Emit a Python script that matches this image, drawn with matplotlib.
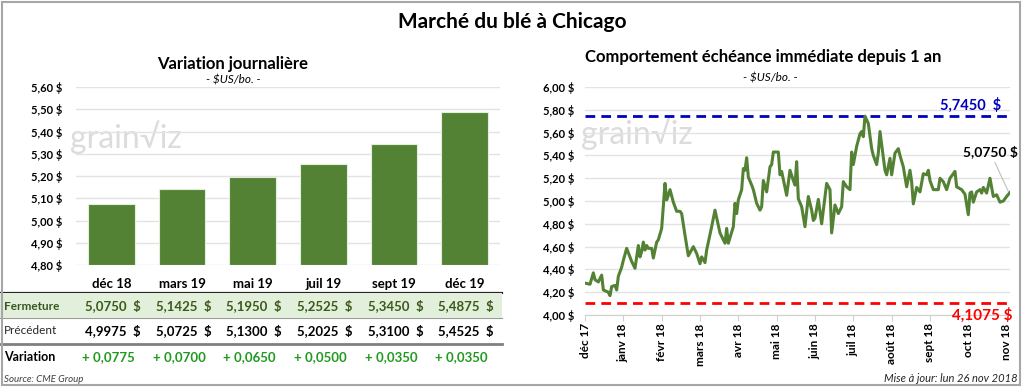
import matplotlib
matplotlib.use("Agg")
import matplotlib.pyplot as plt
import matplotlib.transforms as mtransforms
from matplotlib.patches import Rectangle
from matplotlib.lines import Line2D

plt.rcParams['font.family'] = ['Lato', 'DejaVu Sans']

# --- Données : contrats à terme (gauche) ---
echeances = ["déc 18", "mars 19", "mai 19", "juil 19", "sept 19", "déc 19"]
fermeture = [5.0750, 5.1425, 5.1950, 5.2525, 5.3450, 5.4875]
precedent = [4.9975, 5.0725, 5.1300, 5.2025, 5.3100, 5.4525]

# --- Données : échéance immédiate sur 1 an (droite), index de séance ---
seances = [0, 3, 5, 6, 8, 10, 11, 14, 15, 16, 18, 19, 20, 22, 23, 25, 27, 28, 30, 32,
           33, 34, 35, 36, 37, 38, 40, 41, 43, 44, 46, 48, 49, 50, 51, 53, 55, 57, 58, 60,
           62, 65, 67, 69, 70, 72, 73, 76, 78, 81, 84, 85, 86, 89, 90, 91, 92, 94, 95, 96,
           97, 98, 100, 101, 103, 105, 106, 107, 109, 111, 112, 113, 116, 117, 118, 121, 123, 125, 126, 127,
           128, 130, 132, 134, 136, 137, 138, 140, 142, 145, 147, 148, 150, 152, 154, 155, 157, 159, 160, 161,
           163, 165, 166, 167, 168, 170, 172, 173, 175, 176, 177, 180, 181, 183, 184, 186, 188, 189, 191, 193,
           195, 196, 197, 199, 201, 203, 205, 206, 207, 209, 212, 213, 215, 217, 219, 222, 223, 226, 228, 230,
           231, 232, 233, 235, 237, 238, 239, 241, 243, 245, 247, 249, 251, 253, 255]
prix = [4.28, 4.27, 4.37, 4.31, 4.29, 4.35, 4.22, 4.20, 4.17, 4.25, 4.26, 4.22, 4.34, 4.42, 4.48, 4.585, 4.51, 4.47, 4.41, 4.61,
        4.51, 4.555, 4.64, 4.57, 4.61, 4.585, 4.585, 4.50, 4.64, 4.66, 4.76, 5.155, 5.01, 5.05, 5.10, 4.99, 4.91, 4.91, 4.89, 4.70,
        4.52, 4.60, 4.54, 4.45, 4.51, 4.46, 4.57, 4.775, 4.92, 4.72, 4.63, 4.76, 4.63, 4.775, 4.98, 4.89, 5.01, 5.10, 5.285, 5.27,
        5.38, 5.21, 5.14, 5.10, 4.98, 4.92, 4.95, 5.18, 5.08, 5.30, 5.32, 5.43, 5.43, 5.23, 5.26, 5.05, 5.27, 5.18, 5.14, 5.345,
        5.02, 4.95, 4.775, 5.04, 4.92, 4.83, 4.85, 5.015, 4.80, 5.155, 5.10, 4.72, 4.965, 4.89, 4.95, 5.17, 5.125, 5.10, 5.43, 5.32,
        5.48, 5.59, 5.61, 5.565, 5.745, 5.68, 5.46, 5.40, 5.32, 5.42, 5.61, 5.27, 5.23, 5.375, 5.23, 5.42, 5.46, 5.40, 5.30, 5.125,
        5.27, 5.17, 4.975, 5.12, 5.08, 5.24, 5.23, 5.27, 5.18, 5.10, 5.10, 5.20, 5.17, 5.10, 5.20, 5.26, 5.125, 5.10, 5.06, 4.88,
        5.07, 5.08, 4.99, 5.08, 5.10, 5.07, 5.12, 5.07, 5.20, 5.04, 5.055, 4.99, 5.00, 5.04, 5.075]
mois = ["déc 17", "janv 18", "févr 18", "mars 18", "avr 18", "mai 18", "juin 18",
        "juil 18", "août 18", "sept 18", "oct 18", "nov 18"]
haut_1an = 5.7450
bas_1an = 4.1075


def fr(v, n=2):
    return f"{v:.{n}f}".replace(".", ",")


VERT = "#548235"
fig = plt.figure(figsize=(10.24, 3.87), dpi=100)

# cadre gris autour de l'image
fig.patches.append(Rectangle((0.002, 0.004), 0.994, 0.992, transform=fig.transFigure,
                             fill=False, edgecolor="#a6a6a6", linewidth=1.5))

fig.text(0.5, 0.943, "Marché du blé à Chicago", ha="center", va="center",
         fontsize=15, fontweight="bold")

# ---------- graphique de gauche ----------
ax1 = fig.add_axes([0.0742, 0.315, 0.414, 0.46])
x = range(len(echeances))
ax1.bar(x, [f - 4.8 for f in fermeture], bottom=4.8, width=0.66, color=VERT,
        edgecolor="#e2efda", linewidth=0.8, zorder=3)
ax1.set_ylim(4.8, 5.6)
ax1.set_xlim(-0.5, len(echeances) - 0.5)
ax1.set_yticks([4.8 + 0.1 * i for i in range(9)])
ax1.set_yticklabels([fr(4.8 + 0.1 * i) + " $" for i in range(9)], fontsize=8, fontweight="bold")
ax1.set_xticks([])
ax1.grid(axis="y", color="#e3e3e3", linewidth=1, zorder=0)
for s in ax1.spines.values():
    s.set_visible(False)
ax1.tick_params(axis="y", length=0, pad=10)
ax1.text(0.37, 1.13, "Variation journalière", transform=ax1.transAxes, ha="center",
         va="center", fontsize=12, fontweight="bold")
ax1.text(0.37, 1.04, "- $US/bo. -", transform=ax1.transAxes, ha="center",
         va="center", fontsize=8.5, style="italic")
ax1.text(-0.015, 0.72, "grain√iz", transform=ax1.transAxes, fontsize=23, color="#dcdcdc",
         va="center", ha="left", zorder=1)

# tableau sous les barres
tr = mtransforms.blended_transform_factory(ax1.transData, fig.transFigure)
fig.patches.append(Rectangle((0.0, 1 - 318 / 387), 0.49, 25 / 387, transform=fig.transFigure,
                             facecolor="#e2efda", edgecolor="none", zorder=-1))
fig.lines.append(Line2D([0.0, 0.49], [1 - 293 / 387] * 2, transform=fig.transFigure,
                        color="#262626", linewidth=1.6, zorder=-1))
fig.lines.append(Line2D([0.0, 0.49], [1 - 318 / 387] * 2, transform=fig.transFigure,
                        color="#9a9a9a", linewidth=0.8, zorder=-1))
fig.lines.append(Line2D([0.0, 0.49], [1 - 344 / 387] * 2, transform=fig.transFigure,
                        color="#808080", linewidth=2.0, zorder=-1))
y_mois, y_ferm, y_prec, y_var = 1 - 284 / 387, 1 - 306 / 387, 1 - 331 / 387, 1 - 357 / 387
fig.text(0.004, y_ferm, "Fermeture", fontsize=8.5, fontweight="bold", color="#375623", va="center")
fig.text(0.004, y_prec, "Précédent", fontsize=8.5, color="#262626", va="center")
fig.text(0.004, y_var, "Variation", fontsize=9, fontweight="bold", color="black", va="center")
for i, nom in enumerate(echeances):
    ax1.text(i, y_mois, nom, transform=tr, ha="center", va="center", fontsize=9.5,
             fontweight="bold", clip_on=False)
    ax1.text(i + 0.02, y_ferm, fr(fermeture[i], 4) + "  $", transform=tr, ha="center",
             va="center", fontsize=9.5, fontweight="bold", color="#3a5a1a", clip_on=False)
    ax1.text(i + 0.02, y_prec, fr(precedent[i], 4) + "  $", transform=tr, ha="center",
             va="center", fontsize=9.5, fontweight="bold", color="black", clip_on=False)
    d = fermeture[i] - precedent[i]
    ax1.text(i - 0.04, y_var, ("+ " if d >= 0 else "- ") + fr(abs(d), 4), transform=tr,
             ha="center", va="center", fontsize=9.5, fontweight="bold", color="#1f9a1f",
             clip_on=False)
fig.text(0.004, 1 - 379 / 387, "Source: CME Group", fontsize=7, style="italic",
         color="#404040", va="center")

# ---------- graphique de droite ----------
ax2 = fig.add_axes([0.5713, 0.186, 0.415, 0.589])
ax2.plot(seances, prix, color=VERT, linewidth=2.2, zorder=4)
ax2.axhline(haut_1an, color="#0000c0", linestyle=(0, (3.5, 2.2)), linewidth=2, zorder=3)
ax2.axhline(bas_1an, color="#ff0000", linestyle=(0, (3.5, 2.2)), linewidth=2, zorder=3)
ax2.set_ylim(4.0, 6.0)
ax2.set_xlim(0, 255)
ax2.set_yticks([4.0 + 0.2 * i for i in range(11)])
ax2.set_yticklabels([fr(4.0 + 0.2 * i) + " $" for i in range(11)], fontsize=8, fontweight="bold")
ax2.set_xticks([23 * i for i in range(len(mois))])
ax2.set_xticklabels(mois, rotation=90, fontsize=8.5, fontweight="bold")
ax2.grid(axis="y", color="#e3e3e3", linewidth=1, zorder=0)
for k, s in ax2.spines.items():
    s.set_visible(k == "bottom")
ax2.spines["bottom"].set_color("#d0d0d0")
ax2.tick_params(axis="y", length=0, pad=8)
ax2.tick_params(axis="x", length=4, color="#d0d0d0", pad=2)
ax2.text(0.42, 1.13, "Comportement échéance immédiate depuis 1 an", transform=ax2.transAxes,
         ha="center", va="center", fontsize=12, fontweight="bold")
ax2.text(0.435, 1.04, "- $US/bo. -", transform=ax2.transAxes, ha="center", va="center",
         fontsize=8.5, style="italic")
ax2.text(-0.01, 0.80, "grain√iz", transform=ax2.transAxes, fontsize=23, color="#dcdcdc",
         va="center", ha="left", zorder=1)
ax2.text(0.98, haut_1an + 0.03, fr(haut_1an, 4) + "  $", ha="right", va="bottom",
         fontsize=10.5, fontweight="bold", color="#0000c0", transform=ax2.get_yaxis_transform())
ax2.text(1.005, bas_1an - 0.04, fr(bas_1an, 4) + " $", ha="right", va="top",
         fontsize=11, fontweight="bold", color="#ff0000", transform=ax2.get_yaxis_transform())
ax2.annotate(fr(prix[-1], 4) + " $", xy=(seances[-1] - 1, prix[-1] + 0.01),
             xytext=(seances[-1] - 12, prix[-1] + 0.3), ha="center", va="bottom",
             fontsize=10, fontweight="bold", annotation_clip=False,
             arrowprops=dict(arrowstyle="-", color="#bfbfbf", linewidth=0.8, shrinkA=1, shrinkB=0))
fig.text(0.994, 1 - 378 / 387, "Mise à jour: lun 26 nov 2018", ha="right", va="center",
         fontsize=8, style="italic", color="#262626")

fig.savefig("out.png", dpi=100)
